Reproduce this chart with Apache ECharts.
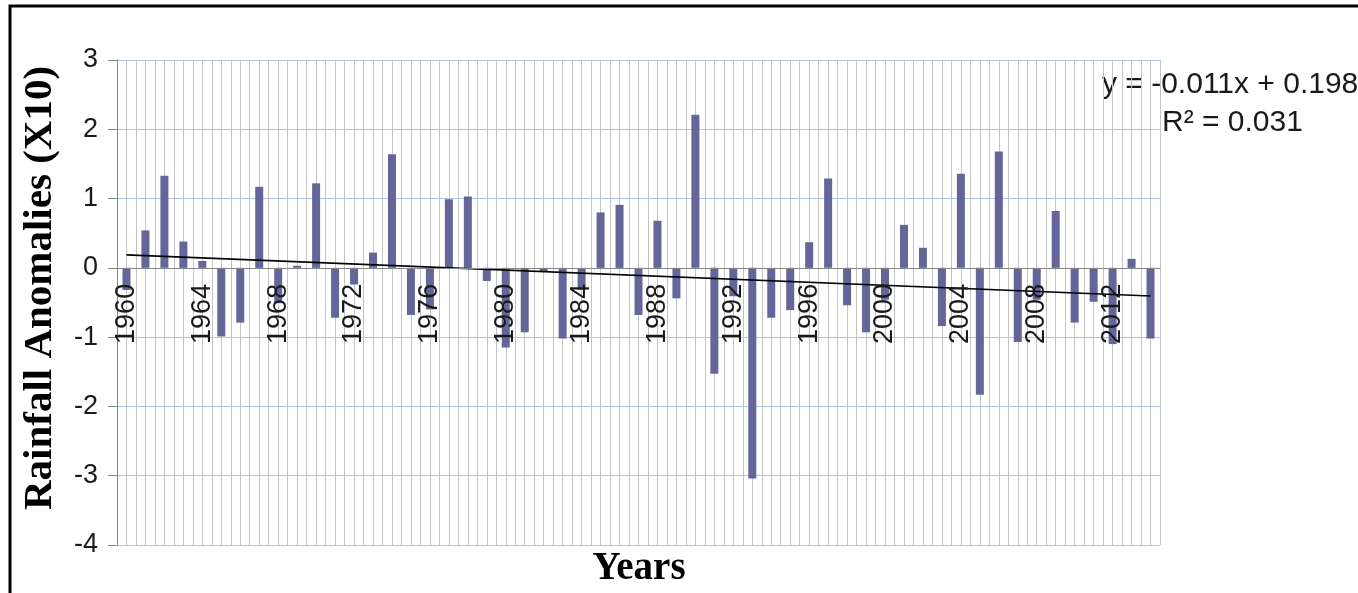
<!DOCTYPE html>
<html>
<head>
<meta charset="utf-8">
<script src="https://cdn.jsdelivr.net/npm/echarts@6/dist/echarts.min.js"></script>
<style>
html,body{margin:0;padding:0;background:#fff;}
#chart{width:1358px;height:593px;}
</style>
</head>
<body>
<div id="chart"></div>
<script>
var years = [];
for (var y = 1960; y <= 2014; y++) years.push(String(y));

var anomalies = [
  -0.32, 0.54, 1.33, 0.38, 0.10, -0.99, -0.79, 1.17, -0.51, 0.03,
  1.22, -0.72, -0.24, 0.22, 1.64, -0.68, -0.60, 0.99, 1.03, -0.19,
  -1.15, -0.93, -0.05, -1.02, -0.32, 0.80, 0.91, -0.68, 0.68, -0.44,
  2.21, -1.53, -0.41, -3.04, -0.72, -0.61, 0.37, 1.29, -0.54, -0.93,
  -0.46, 0.62, 0.29, -0.84, 1.36, -1.83, 1.68, -1.07, -0.46, 0.82,
  -0.79, -0.49, -1.10, 0.13, -1.02
];

// Trend line endpoints (first and last year)
var trendStart = 0.187;
var trendEnd = -0.407;

var equationText = 'y = -0.011x + 0.198';
var r2Text = 'R\u00B2 = 0.031';
var yTitle = 'Rainfall Anomalies (X10)';
var xTitle = 'Years';

var trend = years.map(function (_, i) {
  if (i === 0) return trendStart;
  if (i === years.length - 1) return trendEnd;
  return null;
});

var halfCats = [];
for (var k = 0; k < years.length * 2; k++) halfCats.push('');

var H = 593;
var chart = echarts.init(document.getElementById('chart'), null, {renderer: 'canvas'});
var option = {
  animation: false,
  backgroundColor: '#ffffff',
  grid: [
    {left: 117, top: 60, right: 198, bottom: 48, containLabel: false},
    {left: 117, top: 60, right: 198, bottom: 325, containLabel: false}
  ],
  xAxis: [
    {
      type: 'category',
      gridIndex: 0,
      data: years,
      boundaryGap: true,
      axisLine: {show: false, onZero: false},
      axisTick: {show: false},
      splitLine: {show: false},
      axisLabel: {show: false}
    },
    {
      type: 'category',
      gridIndex: 0,
      data: halfCats,
      boundaryGap: true,
      position: 'top',
      axisLine: {show: false, onZero: false},
      axisTick: {show: false},
      axisLabel: {show: false},
      splitLine: {show: true, interval: 0, lineStyle: {color: '#c4c4c4', width: 1}}
    },
    {
      type: 'category',
      gridIndex: 1,
      data: years,
      boundaryGap: true,
      position: 'bottom',
      z: 5,
      axisLine: {show: true, onZero: false, lineStyle: {color: '#868686', width: 1}},
      axisTick: {show: false},
      splitLine: {show: false},
      axisLabel: {
        interval: 3,
        rotate: 90,
        margin: 16,
        fontSize: 27,
        fontFamily: 'Liberation Sans',
        color: '#1a1a1a'
      }
    }
  ],
  yAxis: [
    {
      type: 'value',
      gridIndex: 0,
      min: -4,
      max: 3,
      interval: 1,
      z: 1,
      axisLine: {show: true, onZero: false, lineStyle: {color: '#868686', width: 1}},
      axisTick: {show: true, length: 9, lineStyle: {color: '#868686'}},
      splitLine: {show: true, lineStyle: {color: '#aec4ec', width: 1}},
      axisLabel: {
        margin: 19,
        fontSize: 27,
        fontFamily: 'Liberation Sans',
        color: '#1a1a1a'
      }
    },
    {
      type: 'value',
      gridIndex: 1,
      show: false,
      min: 0,
      max: 1
    }
  ],
  series: [
    {
      type: 'bar',
      xAxisIndex: 0,
      yAxisIndex: 0,
      data: anomalies,
      barWidth: 8,
      itemStyle: {color: '#65659a'}
    },
    {
      type: 'line',
      xAxisIndex: 0,
      yAxisIndex: 0,
      data: trend,
      connectNulls: true,
      symbol: 'none',
      lineStyle: {color: '#000000', width: 1.6},
      z: 4
    }
  ],
  graphic: [
    {
      type: 'rect',
      shape: {x: 10, y: 6, width: 1500, height: 800},
      style: {fill: 'none', stroke: '#000000', lineWidth: 3},
      silent: true
    },
    {
      type: 'text',
      x: 40, y: 288,
      rotation: Math.PI / 2,
      style: {
        text: yTitle,
        font: 'bold 41px "Liberation Serif"',
        fill: '#000000',
        align: 'center',
        verticalAlign: 'middle'
      }
    },
    {
      type: 'text',
      x: 639, y: 569,
      style: {
        text: xTitle,
        font: 'bold 39px "Liberation Serif"',
        fill: '#000000',
        align: 'center',
        verticalAlign: 'middle'
      }
    },
    {
      type: 'text',
      x: 1102, y: 85,
      style: {
        text: equationText,
        font: '30px "Liberation Sans"',
        fill: '#1a1a1a',
        align: 'left',
        verticalAlign: 'middle'
      }
    },
    {
      type: 'text',
      x: 1162, y: 123,
      style: {
        text: r2Text,
        font: '30px "Liberation Sans"',
        fill: '#1a1a1a',
        align: 'left',
        verticalAlign: 'middle'
      }
    }
  ]
};
chart.setOption(option);
// Place the year-label axis on the zero line, using the library's own value scale
var zeroPx = chart.convertToPixel({yAxisIndex: 0}, 0);
chart.setOption({grid: [{}, {bottom: H - zeroPx}]});
</script>
</body>
</html>
